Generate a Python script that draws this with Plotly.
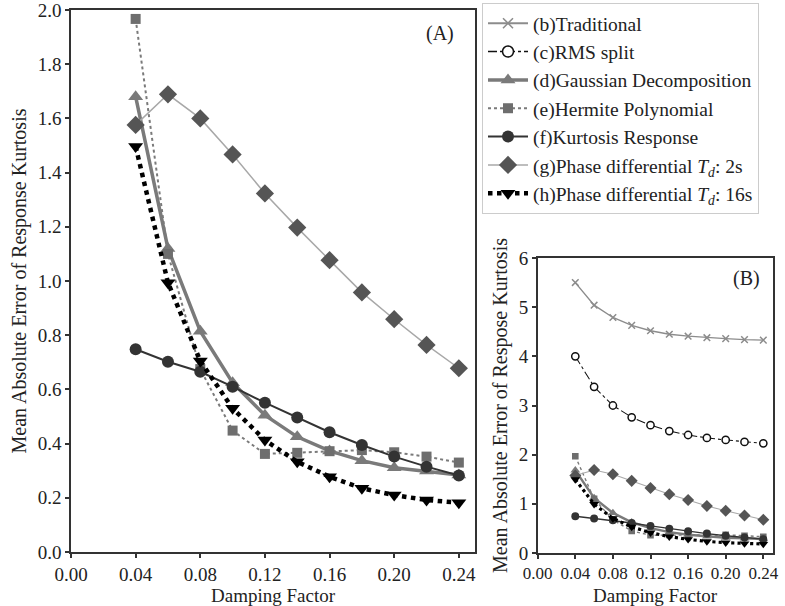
import plotly.graph_objects as go

damping = [0.04, 0.06, 0.08, 0.10, 0.12, 0.14, 0.16, 0.18, 0.20, 0.22, 0.24]

traditional = [5.50, 5.04, 4.79, 4.63, 4.52, 4.45, 4.41, 4.38, 4.36, 4.34, 4.33]
rms_split = [4.00, 3.38, 3.00, 2.76, 2.60, 2.48, 2.40, 2.34, 2.30, 2.26, 2.23]
gaussian = [1.68, 1.12, 0.815, 0.625, 0.505, 0.425, 0.373, 0.337, 0.311, 0.299, 0.284]
hermite = [1.967, 1.10, 0.675, 0.448, 0.362, 0.366, 0.372, 0.376, 0.368, 0.352, 0.330]
kurt_resp = [0.748, 0.702, 0.665, 0.610, 0.551, 0.496, 0.442, 0.395, 0.352, 0.315, 0.282]
phase_2s = [1.576, 1.689, 1.600, 1.467, 1.323, 1.197, 1.077, 0.958, 0.859, 0.764, 0.678]
phase_16s = [1.496, 0.994, 0.705, 0.530, 0.413, 0.333, 0.278, 0.235, 0.210, 0.192, 0.182]

x_ticks = [0, 0.04, 0.08, 0.12, 0.16, 0.20, 0.24]
x_ticklabels = ["0.00", "0.04", "0.08", "0.12", "0.16", "0.20", "0.24"]
yA_ticks = [0, 0.2, 0.4, 0.6, 0.8, 1.0, 1.2, 1.4, 1.6, 1.8, 2.0]
yA_ticklabels = ["0.0", "0.2", "0.4", "0.6", "0.8", "1.0", "1.2", "1.4", "1.6", "1.8", "2.0"]
yB_ticks = [0, 1, 2, 3, 4, 5, 6]

names = ["(b)Traditional", "(c)RMS split", "(d)Gaussian Decomposition",
         "(e)Hermite Polynomial", "(f)Kurtosis Response",
         "(g)Phase differential <i>T<sub>d</sub></i>: 2s",
         "(h)Phase differential <i>T<sub>d</sub></i>: 16s"]

FONT = "Liberation Serif, Times New Roman, serif"
FS = 20
TFS = 19

styles = {
    "trad": dict(line=dict(color="#8c8c8c", width=2),
                 marker=dict(symbol="x-thin", size=10, line=dict(color="#8c8c8c", width=1.5), color="#8c8c8c")),
    "rms": dict(line=dict(color="#111111", width=1.5, dash="dashdot"),
                marker=dict(symbol="circle", size=11, color="white", line=dict(color="#111111", width=1.5))),
    "gauss": dict(line=dict(color="#7a7a7a", width=3.5),
                  marker=dict(symbol="triangle-up", size=13, color="#7a7a7a")),
    "herm": dict(line=dict(color="#7a7a7a", width=2, dash="dot"),
                 marker=dict(symbol="square", size=10, color="#6e6e6e")),
    "kurt": dict(line=dict(color="#333333", width=2),
                 marker=dict(symbol="circle", size=12, color="#333333")),
    "ph2": dict(line=dict(color="#a8a8a8", width=1.5),
                marker=dict(symbol="diamond", size=14, color="#555555")),
    "ph16": dict(line=dict(color="#000000", width=4.5, dash="dot"),
                 marker=dict(symbol="triangle-down", size=13, color="#000000")),
}

fig = go.Figure()

panelA = [("gauss", gaussian, names[2]), ("herm", hermite, names[3]),
          ("kurt", kurt_resp, names[4]), ("ph2", phase_2s, names[5]),
          ("ph16", phase_16s, names[6])]
seriesB = [("trad", traditional, names[0]), ("rms", rms_split, names[1])] + panelA

for key, ys, nm in panelA:
    st = styles[key]
    fig.add_trace(go.Scatter(x=damping, y=ys, mode="lines+markers", name=nm,
                             line=st["line"], marker=st["marker"],
                             xaxis="x", yaxis="y", showlegend=False))

def small(st, scale):
    m = dict(st["marker"])
    m["size"] = max(6, m["size"] * scale)
    if "line" in m:
        m["line"] = dict(m["line"])
    l = dict(st["line"])
    l["width"] = max(1, l["width"] * 0.7)
    return l, m

for key, ys, nm in seriesB:
    st = styles[key]
    l, m = small(st, 0.66)
    fig.add_trace(go.Scatter(x=damping, y=ys, mode="lines+markers", name=nm,
                             line=l, marker=m, xaxis="x2", yaxis="y2",
                             showlegend=False))

for key, ys, nm in seriesB:
    st = styles[key]
    fig.add_trace(go.Scatter(x=[None], y=[None], mode="lines+markers", name=nm,
                             line=st["line"], marker=st["marker"],
                             xaxis="x", yaxis="y", showlegend=True))

axis_common = dict(showline=True, linecolor="#333333", linewidth=1.5, mirror=True,
                   ticks="outside", ticklen=4, tickcolor="#333333", tickwidth=1.5,
                   showgrid=False, zeroline=False, ticklabeloverflow="allow",
                   automargin=False)

def tf(size):
    return dict(family=FONT, size=size, color="#222222")

fig.update_layout(
    width=785, height=606,
    margin=dict(l=0, r=0, t=0, b=0),
    paper_bgcolor="white", plot_bgcolor="white",
    font=dict(family=FONT, size=FS, color="#222222"),
    xaxis=dict(domain=[71/785, 475/785], range=[0, 0.25],
               tickvals=x_ticks, ticktext=x_ticklabels, tickfont=tf(TFS),
               anchor="y", **axis_common),
    yaxis=dict(domain=[54/606, 596/606], range=[0, 2.0],
               tickvals=yA_ticks, ticktext=yA_ticklabels, tickfont=tf(TFS),
               title=dict(text="Mean Absolute Error of Response Kurtosis",
                          font=dict(family=FONT, size=FS), standoff=6),
               anchor="x", **axis_common),
    xaxis2=dict(domain=[537.7/785, 772.7/785], range=[0, 0.25],
                tickvals=x_ticks, ticktext=x_ticklabels, tickfont=tf(17),
                anchor="y2", **axis_common),
    yaxis2=dict(domain=[53/606, 348/606], range=[0, 6],
                tickvals=yB_ticks, tickfont=tf(TFS),
                title=dict(text="Mean Absolute Error of Respose Kurtosis",
                           font=dict(family=FONT, size=FS), standoff=6),
                anchor="x2", **axis_common),
    legend=dict(x=482/785, y=1 - 3/606, xanchor="left", yanchor="top",
                bgcolor="white", bordercolor="#cccccc", borderwidth=1,
                font=dict(family=FONT, size=19.5, color="#222222"),
                tracegroupgap=0, itemwidth=40),
    annotations=[
        dict(text="(A)", x=0.913, y=0.957, xref="x domain", yref="y domain",
             xanchor="center", yanchor="middle", showarrow=False, font=tf(FS)),
        dict(text="(B)", x=0.889, y=0.932, xref="x2 domain", yref="y2 domain",
             xanchor="center", yanchor="middle", showarrow=False, font=tf(FS)),
        dict(text="Damping Factor", x=0.5, y=11/606, xref="x domain", yref="paper",
             xanchor="center", yanchor="middle", showarrow=False, font=tf(19)),
        dict(text="Damping Factor", x=0.5, y=11/606, xref="x2 domain", yref="paper",
             xanchor="center", yanchor="middle", showarrow=False, font=tf(19)),
    ],
)

fig.write_html("out.html")
